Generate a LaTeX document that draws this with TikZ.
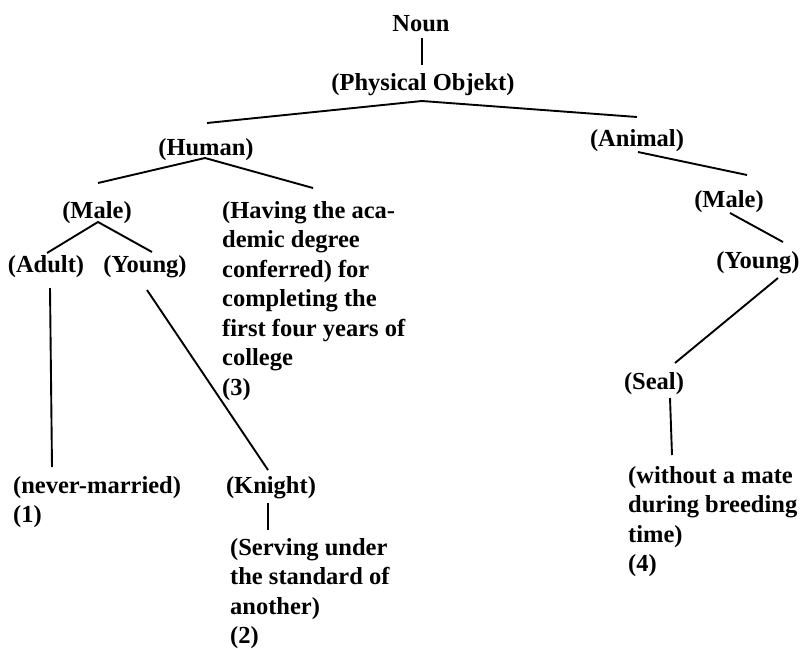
\documentclass[tikz,border=0pt]{standalone}
\usepackage{fontspec}
\setmainfont{Liberation Serif}
\usetikzlibrary{calc}
\newcommand{\stacked}[1]{\begin{tabular}[t]{@{}l@{}}#1\end{tabular}}
\begin{document}
\begin{tikzpicture}[x=1pt,y=-1pt,
  every node/.style={inner sep=0pt,font=\fontsize{24.5}{29.5}\selectfont\bfseries},
  lbl/.style={anchor=base},
  blk/.style={anchor=base west},
  edge/.style={line width=1.9pt}]
\useasboundingbox (0,0) rectangle (803,648);

% labels of the tree
\node[lbl] (noun)    at (421,31)  {Noun};
\node[lbl] (phys)    at (423,90)  {(Physical Objekt)};
\node[lbl] (human)   at (206,155) {(Human)};
\node[lbl] (animal)  at (637,146) {(Animal)};
\node[lbl] (maleH)   at (97,218)  {(Male)};
\node[blk] (having)  at (222,218) {\stacked{(Having the aca-\\demic degree\\conferred) for\\completing the\\first four years of\\college\\(3)}};
\node[lbl] (adult)   at (46,272)  {(Adult)};
\node[lbl] (youngH)  at (145,272) {(Young)};
\node[blk] (never)   at (13,493)  {\stacked{(never-married)\\(1)}};
\node[lbl] (knight)  at (271,493) {(Knight)};
\node[blk] (serving) at (230,555) {\stacked{(Serving under\\the standard of\\another)\\(2)}};
\node[lbl] (maleA)   at (729,207) {(Male)};
\node[lbl] (youngA)  at (758,268) {(Young)};
\node[lbl] (seal)    at (654,389) {(Seal)};
\node[blk] (without) at (628,483) {\stacked{(without a mate\\during breeding\\time)\\(4)}};

% branches
\draw[edge] ($(noun.base)+(1,7)$) -- ($(phys.base)+(-1,-25)$);
\draw[edge] ($(human.base)+(1,-32)$) -- ($(phys.base)+(-1,11)$) -- ($(animal.base)+(0,-29)$);
\draw[edge] ($(maleH.base)+(1,-35)$) -- ($(human.base)+(-1,3)$) -- ($(having.base west)+(91,-30)$);
\draw[edge] ($(adult.base)+(1,-19)$) -- ($(maleH.base)+(1,4)$) -- ($(youngH.base)+(7,-20)$);
\draw[edge] ($(adult.base)+(4,16)$) -- ($(never.base west)+(39,-26)$);
\draw[edge] ($(youngH.base)+(2,18)$) -- ($(knight.base)+(-3,-23)$);
\draw[edge] ($(knight.base)+(-3,10)$) -- ($(serving.base west)+(38,-25)$);
\draw[edge] ($(animal.base)+(1,6)$) -- ($(maleA.base)+(18,-32)$);
\draw[edge] ($(maleA.base)+(1,6)$) -- ($(youngA.base)+(25,-26)$);
\draw[edge] ($(youngA.base)+(20,10)$) -- ($(seal.base)+(21,-26)$);
\draw[edge] ($(seal.base)+(16,9)$) -- ($(without.base west)+(44,-28)$);
\end{tikzpicture}
\end{document}
